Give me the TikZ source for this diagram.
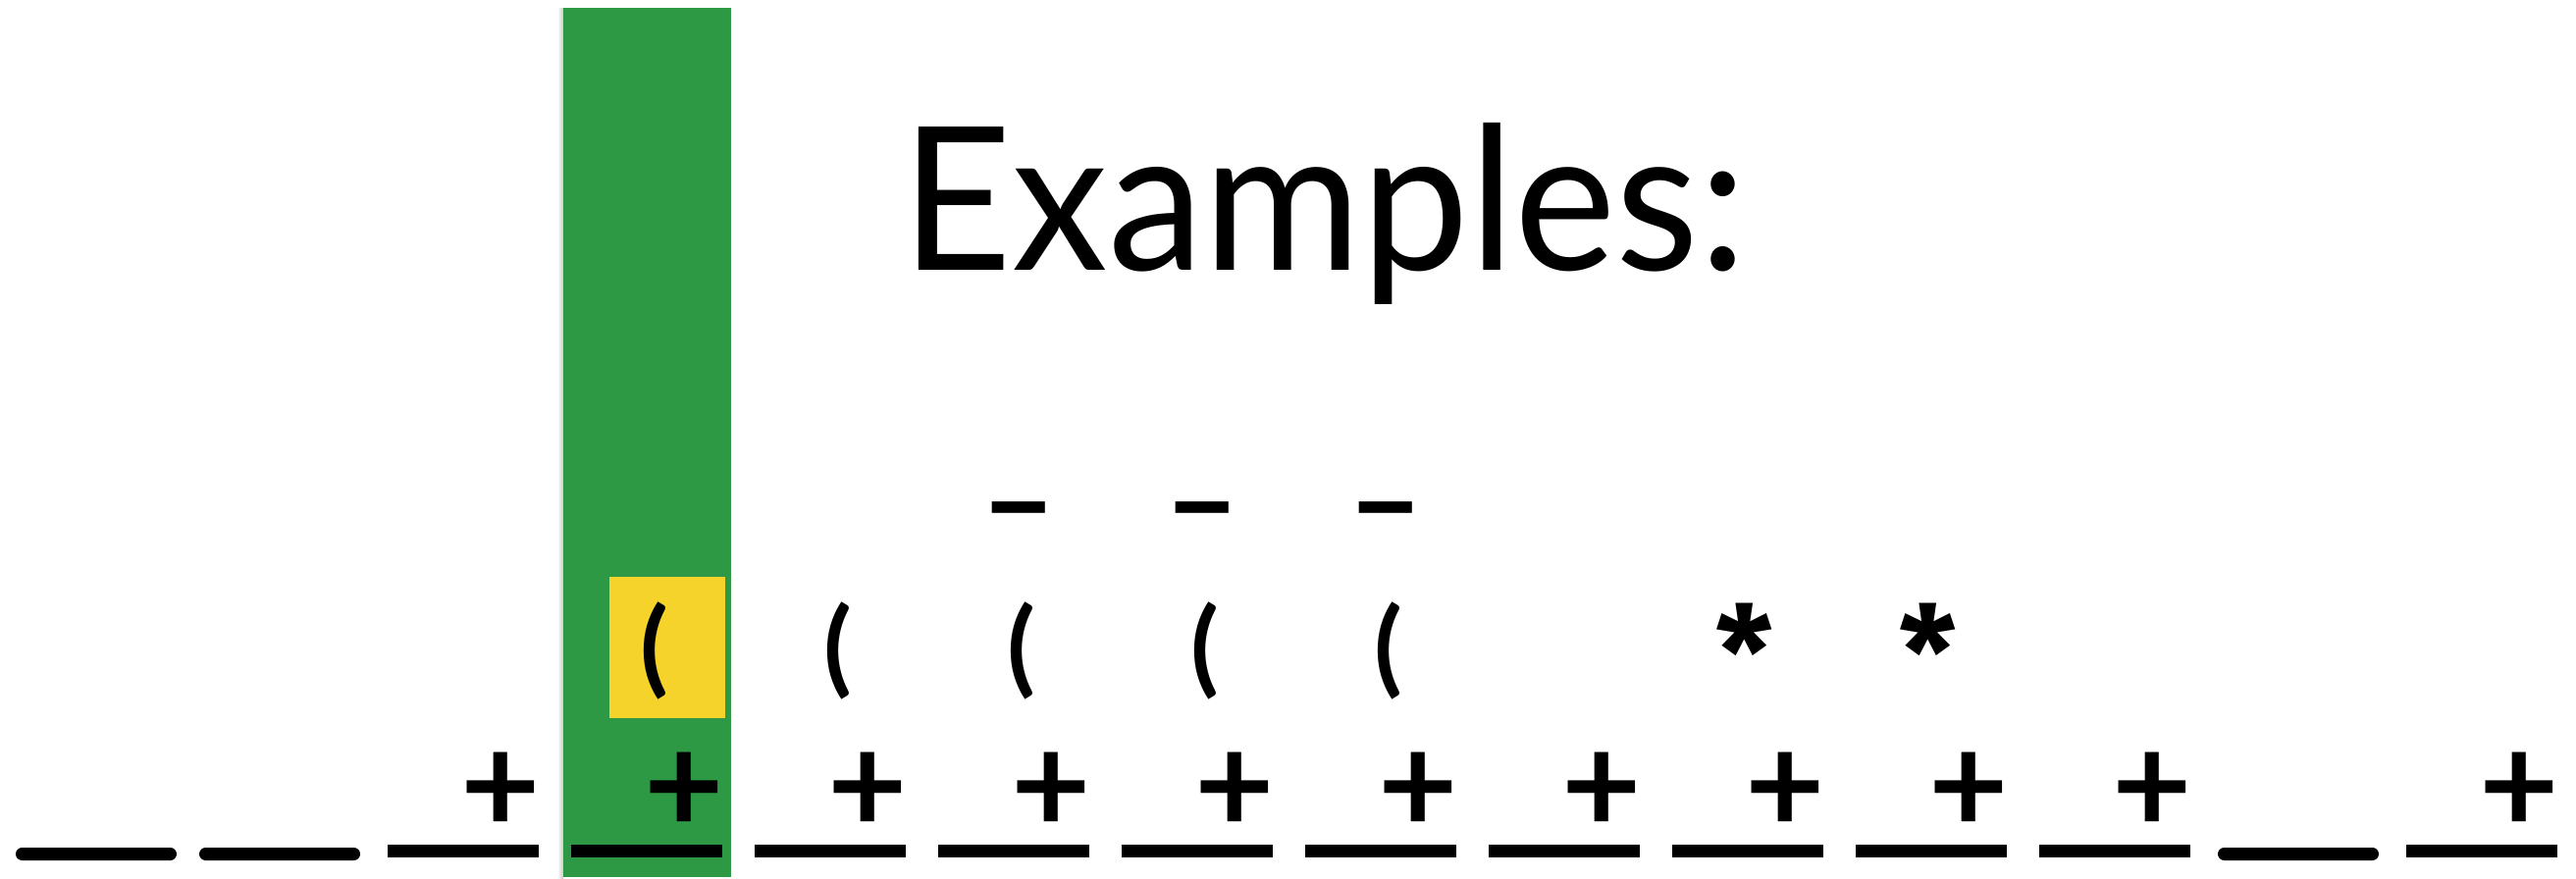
\documentclass[tikz,border=0pt]{standalone}
\usepackage{fontspec}
\usepackage{graphicx}
\setmainfont{Lato}
\newfontfamily\starfont{Fira Sans}
\usetikzlibrary{positioning}
\definecolor{headgreen}{RGB}{46,153,68}
\definecolor{cursoryellow}{RGB}{245,211,42}
\begin{document}
\begin{tikzpicture}[node distance=1.87cm, on grid]
  \tikzstyle{slot} = [rectangle, fill=black, inner sep=0pt, minimum width=1.54cm, minimum height=0.13cm]
  \tikzstyle{blank} = [slot, rounded corners=0.065cm, minimum width=1.64cm]
  \tikzstyle{plussym} = [inner sep=0pt, font=\fontsize{40}{40}\selectfont\bfseries]
  \tikzstyle{parensym} = [inner sep=0pt, font=\fontsize{30}{30}\selectfont\bfseries]
  \tikzstyle{starsym} = [inner sep=0pt, font=\starfont\fontsize{37}{37}\selectfont\bfseries]
  \tikzstyle{negsym} = [inner sep=0pt, font=\fontsize{38}{38}\selectfont\bfseries]

  \useasboundingbox (0,0) rectangle (26.25,8.95);
  % tape head with its faint shadow
  \shade[left color=white, right color=black!22] (5.68,0) rectangle (5.74,8.86);
  \node[fill=headgreen, inner sep=0pt, minimum width=1.71cm, minimum height=8.86cm, anchor=south] (head) at (6.595,0) {};
  \node[fill=cursoryellow, inner sep=0pt, minimum width=1.18cm, minimum height=1.44cm] (cursor) at (6.80,2.35) {};
  \node[anchor=base west, inner sep=0pt, font=\fontsize{58}{58}\selectfont] (title) at (9.18,6.19) {\scalebox{0.96}[1]{Examples:}};

  \node[blank] (u1) at (0.98,0.245) {};
  \node[blank, right=of u1] (u2) {};
  \node[slot, above right=0.035cm and 1.87cm of u2] (u3) {};
  \node[slot, right=of u3] (u4) {};
  \node[slot, right=of u4] (u5) {};
  \node[slot, right=of u5] (u6) {};
  \node[slot, right=of u6] (u7) {};
  \node[slot, right=of u7] (u8) {};
  \node[slot, right=of u8] (u9) {};
  \node[slot, right=of u9] (u10) {};
  \node[slot, right=of u10] (u11) {};
  \node[slot, right=of u11] (u12) {};
  \node[blank, below right=0.035cm and 1.87cm of u12] (u13) {};
  \node[slot, above right=0.035cm and 1.87cm of u13] (u14) {};

  \node[plussym, above right=0.59cm and 0.38cm of u3] (p3) {+};
  \node[plussym, above right=0.59cm and 0.38cm of u4] (p4) {+};
  \node[plussym, above right=0.59cm and 0.38cm of u5] (p5) {+};
  \node[plussym, above right=0.59cm and 0.38cm of u6] (p6) {+};
  \node[plussym, above right=0.59cm and 0.38cm of u7] (p7) {+};
  \node[plussym, above right=0.59cm and 0.38cm of u8] (p8) {+};
  \node[plussym, above right=0.59cm and 0.38cm of u9] (p9) {+};
  \node[plussym, above right=0.59cm and 0.38cm of u10] (p10) {+};
  \node[plussym, above right=0.59cm and 0.38cm of u11] (p11) {+};
  \node[plussym, above right=0.59cm and 0.38cm of u12] (p12) {+};
  \node[plussym, above right=0.59cm and 0.38cm of u14] (p14) {+};

  \node[parensym, above right=2.04cm and 0.08cm of u4] (q4) {(};
  \node[parensym, above right=2.04cm and 0.08cm of u5] (q5) {(};
  \node[parensym, above right=2.04cm and 0.08cm of u6] (q6) {(};
  \node[parensym, above right=2.04cm and 0.08cm of u7] (q7) {(};
  \node[parensym, above right=2.04cm and 0.08cm of u8] (q8) {(};

  \node[negsym, above left=1.28cm and 0.03cm of q6] (n6) {–};
  \node[negsym, above left=1.28cm and 0.03cm of q7] (n7) {–};
  \node[negsym, above left=1.28cm and 0.03cm of q8] (n8) {–};

  \node[starsym, above left=2.04cm and 0.03cm of u10] (s10) {*};
  \node[starsym, above left=2.04cm and 0.03cm of u11] (s11) {*};
\end{tikzpicture}
\end{document}
